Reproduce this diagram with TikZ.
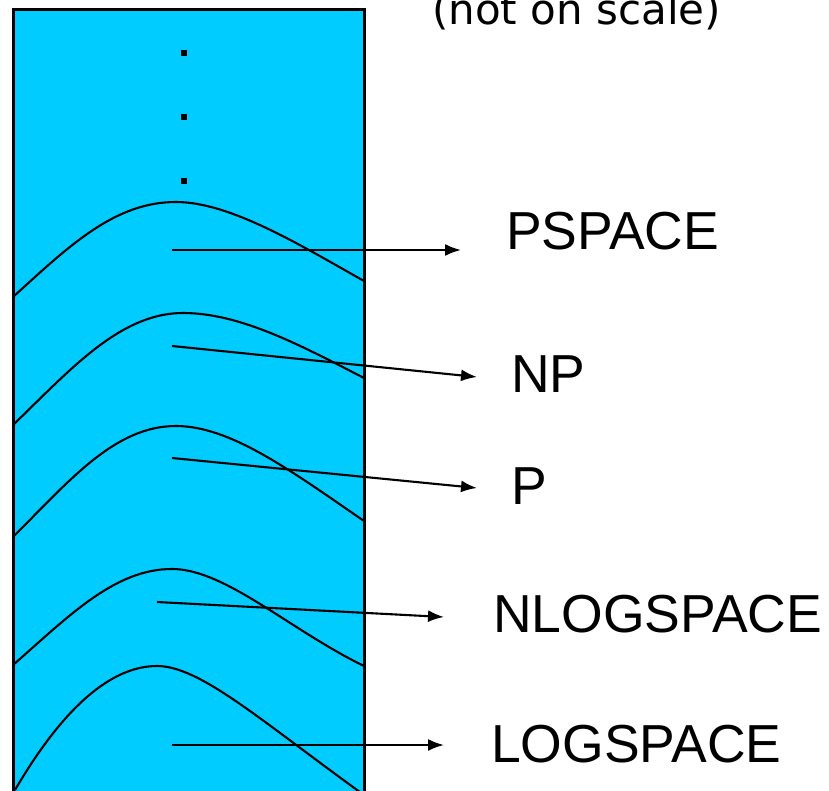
\documentclass[tikz,border=0pt]{standalone}
\usepackage{fontspec}
\setmainfont{Liberation Sans}
\newfontfamily\notefont{DejaVu Sans}
\usetikzlibrary{arrows.meta}
\definecolor{boxblue}{HTML}{00CCFF}
\tikzset{
  curveline/.style={line width=2.1pt, black},
  pointer/.style={line width=2.1pt, black, -{Latex[length=16pt,width=12pt]}},
  classlabel/.style={anchor=base west, inner sep=0pt, font=\fontsize{53.5}{62}\selectfont},
  dotbox/.style={fill=black, minimum size=6.5pt, inner sep=0pt},
}
\begin{document}
\begin{tikzpicture}[x=1pt,y=-1pt]
\useasboundingbox (0,0) rectangle (829,791);
\begin{scope}
\clip (0,0) rectangle (829,791);
\filldraw[fill=boxblue, draw=black, line width=3pt] (13,10) rectangle (364,810);
% dots
\node[dotbox] (d1) at (184,53) {};
\node[dotbox] (d2) at (184,117) {};
\node[dotbox] (d3) at (184,181) {};
% curves
\draw[curveline] (13,297) .. controls (70,245) and (115,202) .. (176,202)
                 .. controls (230,202) and (300,245) .. (364,281);
\draw[curveline] (13,425) .. controls (70,370) and (120,313) .. (183,313)
                 .. controls (240,313) and (300,345) .. (364,378);
\draw[curveline] (13,537) .. controls (70,480) and (115,426) .. (176,426)
                 .. controls (230,426) and (290,470) .. (364,521);
\draw[curveline] (13,665) .. controls (70,615) and (115,569) .. (172,569)
                 .. controls (225,569) and (290,630) .. (364,666);
\draw[curveline] (15,790) .. controls (50,730) and (100,666) .. (157,666)
                 .. controls (200,666) and (260,720) .. (364,795);
\end{scope}
% labels
\node[anchor=base west, inner sep=0pt, font=\notefont\fontsize{42}{48}\selectfont] (note) at (432,25) {(not on scale)};
\node[classlabel] (pspace) at (506,250) {PSPACE};
\node[classlabel] (np) at (511,392) {NP};
\node[classlabel] (p) at (511,504) {P};
\node[classlabel] (nlog) at (493,632) {NLOGSPACE};
\node[classlabel] (log) at (491,762) {LOGSPACE};
% arrow end points
\coordinate (s1) at (172,250); \coordinate (e1) at (461,250);
\coordinate (s2) at (172,346); \coordinate (e2) at (477,377);
\coordinate (s3) at (172,458); \coordinate (e3) at (477,488);
\coordinate (s4) at (157,602); \coordinate (e4) at (444,617);
\coordinate (s5) at (172,745); \coordinate (e5) at (444,745);
\draw[pointer] (s1) -- (e1);
\draw[pointer] (s2) -- (e2);
\draw[pointer] (s3) -- (e3);
\draw[pointer] (s4) -- (e4);
\draw[pointer] (s5) -- (e5);
\end{tikzpicture}
\end{document}
